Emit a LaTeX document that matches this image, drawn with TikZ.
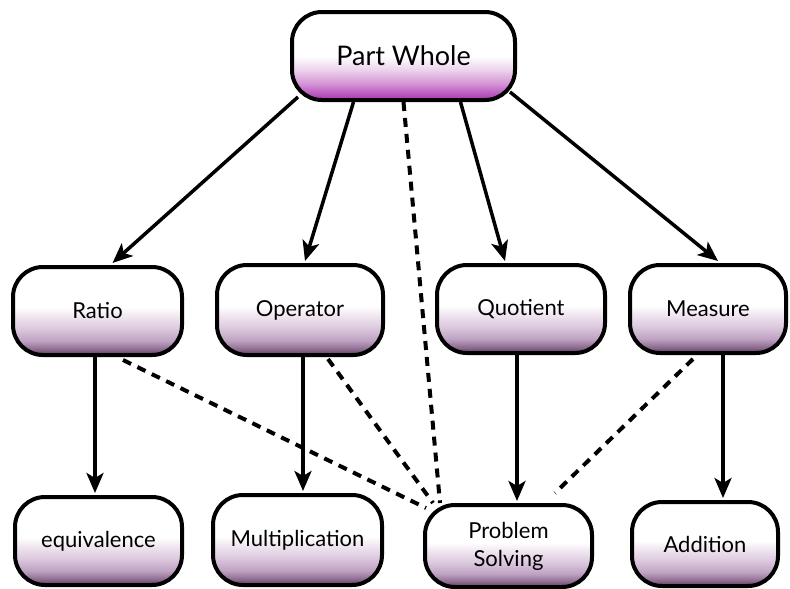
\documentclass[tikz,border=0pt]{standalone}
\usepackage{fontspec}
\setmainfont{Lato}
\usetikzlibrary{arrows.meta,calc}

% vertical fills: white top half, fading into purple at the bottom edge
\pgfdeclareverticalshading{lilacfill}{100bp}{%
  color(0bp)=(rgb,255:red,88;green,58;blue,92);
  color(25bp)=(rgb,255:red,88;green,58;blue,92);
  color(28bp)=(rgb,255:red,138;green,104;blue,140);
  color(33bp)=(rgb,255:red,190;green,162;blue,194);
  color(40bp)=(rgb,255:red,220;green,200;blue,222);
  color(48bp)=(rgb,255:red,243;green,235;blue,243);
  color(52bp)=(white);
  color(100bp)=(white)}
\pgfdeclareverticalshading{magentafill}{100bp}{%
  color(0bp)=(rgb,255:red,168;green,56;blue,176);
  color(25bp)=(rgb,255:red,168;green,56;blue,176);
  color(29bp)=(rgb,255:red,188;green,92;blue,192);
  color(35bp)=(rgb,255:red,214;green,154;blue,216);
  color(42bp)=(rgb,255:red,236;green,210;blue,236);
  color(50bp)=(white);
  color(100bp)=(white)}

\tikzset{
  box/.style={draw=black, line width=4pt, rounded corners=30pt,
    shading=lilacfill, align=center, inner sep=0pt,
    font=\fontsize{22}{28}\selectfont},
  topbox/.style={box, shading=magentafill, font=\fontsize{27}{32}\selectfont},
  arr/.style={line width=3.5pt, -{Stealth[length=20pt,width=17pt,inset=5pt]}},
  link/.style={line width=4pt, dashed, dash pattern=on 9pt off 7pt}
}

\begin{document}
\begin{tikzpicture}[x=1pt,y=-1pt]
\useasboundingbox (0,0) rectangle (790,589);

% concepts
\node[topbox, minimum width=223pt, minimum height=88pt] (pw)   at (403.5,56)  {Part Whole};
\node[box, minimum width=169pt, minimum height=88pt] (ratio)    at (97.5,311)  {Ratio};
\node[box, minimum width=166pt, minimum height=90pt] (operator) at (300,310)   {Operator};
\node[box, minimum width=168pt, minimum height=88pt] (quotient) at (521,309)   {Quotient};
\node[box, minimum width=156pt, minimum height=88pt] (measure)  at (708,309)   {Measure};
\node[box, minimum width=167pt, minimum height=88pt] (equiv)    at (98.5,541)  {equivalence};
\node[box, minimum width=169pt, minimum height=90pt] (mult)     at (297.5,540) {Multiplication};
\node[box, minimum width=167pt, minimum height=82pt] (ps)       at (508.5,546) {Problem\\Solving};
\node[box, minimum width=146pt, minimum height=84pt] (add)      at (705,544)   {Addition};

% dashed links into Problem Solving
\draw[link] (pw.south) -- ($(ps.north west)+(17,0)$);
\draw[link] ($(ratio.south)+(25.5,3)$) -- ($(ps.north west)+(3,5)$);
\draw[link] ($(operator.south)+(28,2)$) -- ($(ps.north west)+(10,0)$);
\draw[link] ($(measure.south)+(-15,4)$) -- ($(ps.north east)+(-39,-10)$);

% arrows from Part Whole
\draw[arr] ($(pw.south west)+(8,-5)$) -- ($(ratio.north)+(15,-2)$);
\draw[arr] ($(pw.south)+(-50,0)$) -- ($(operator.north)+(5,-2)$);
\draw[arr] ($(pw.south)+(57,0)$) -- ($(quotient.north)+(-16,-2)$);
\draw[arr] ($(pw.south east)+(-7,-10)$) -- ($(measure.north)+(10,-2)$);

% arrows down to the bottom row
\draw[arr] ($(ratio.south)+(-2.5,0)$) -- ($(equiv.north)+(-3.5,-2)$);
\draw[arr] ($(operator.south)+(3,0)$) -- ($(mult.north)+(5.5,-2)$);
\draw[arr] ($(quotient.south)+(-4,0)$) -- ($(ps.north)+(8.5,-2)$);
\draw[arr] ($(measure.south)+(15,0)$) -- ($(add.north)+(18,-2)$);
\end{tikzpicture}
\end{document}
